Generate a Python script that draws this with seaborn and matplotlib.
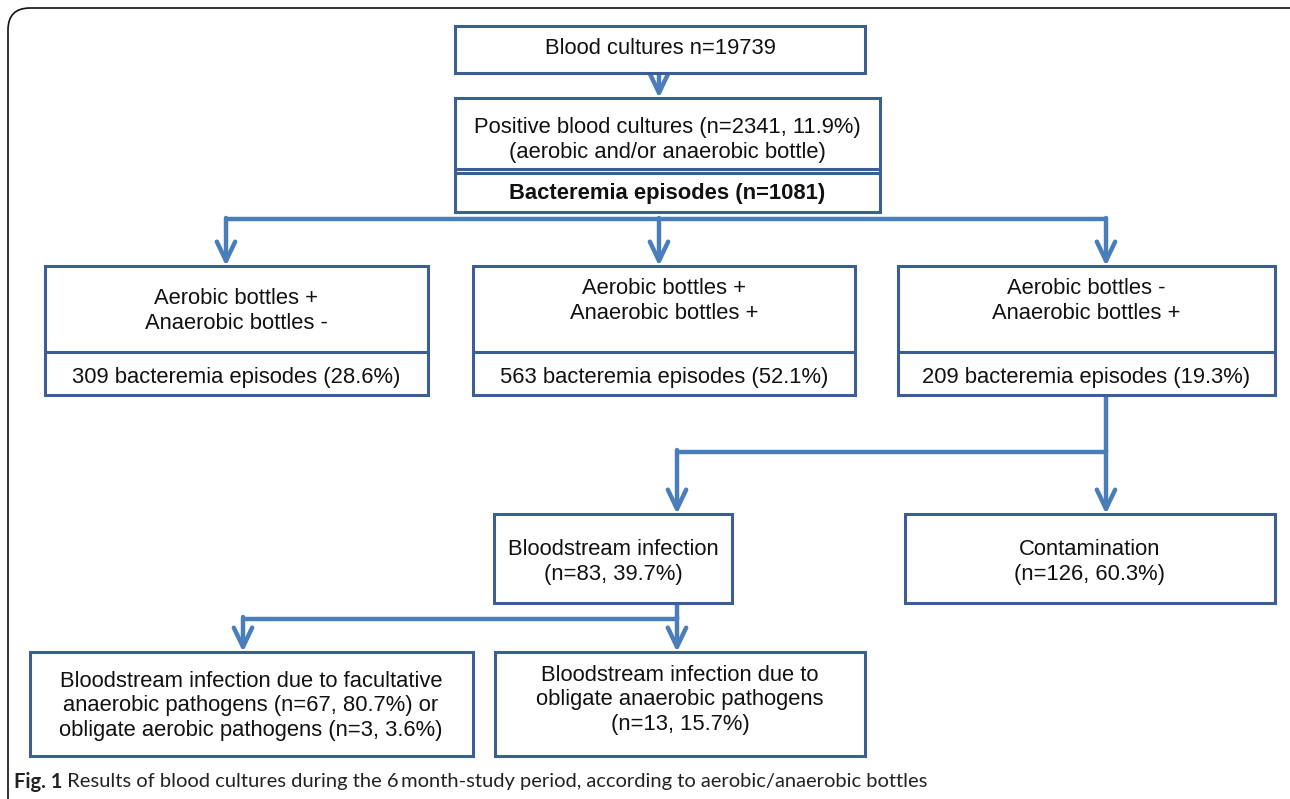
import matplotlib
matplotlib.use("Agg")
import matplotlib.pyplot as plt
import seaborn as sns
from matplotlib.patches import Rectangle, FancyBboxPatch

# ---- data ----
total_cultures = 19739
positive = [2341, 11.9]
episodes_total = 1081
bottle_groups = ["Aerobic bottles +\nAnaerobic bottles -",
                 "Aerobic bottles +\nAnaerobic bottles +",
                 "Aerobic bottles -\nAnaerobic bottles +"]
bottle_episodes = [309, 563, 209]
bottle_pct = [28.6, 52.1, 19.3]
outcome_labels = ["Bloodstream infection", "Contamination"]
outcome_n = [83, 126]
outcome_pct = [39.7, 60.3]
bsi_labels = ["Bloodstream infection due to facultative\nanaerobic pathogens (n={}, {}%) or\n"
              "obligate aerobic pathogens (n={}, {}%)",
              "Bloodstream infection due to\nobligate anaerobic pathogens\n(n={}, {}%)"]
bsi_n = [67, 3, 13]
bsi_pct = [80.7, 3.6, 15.7]
caption_bold = "Fig. 1"
caption_text = " Results of blood cultures during the 6\u2009month-study period, according to aerobic/anaerobic bottles"

sns.set_theme(style="white")
plt.rcParams['font.family'] = ['Liberation Sans', 'DejaVu Sans']

edge = "#3c5e92"
arrow_c = "#4a7ebb"
fs = 15.8

fig = plt.figure(figsize=(12.9, 7.99), dpi=100)
ax = fig.add_axes([0, 0, 1, 1])
ax.set_xlim(0, 1290)
ax.set_ylim(799, 0)
ax.axis("off")

# outer frame
frame = FancyBboxPatch((8, 8), 1320, 840, boxstyle="round,pad=0,rounding_size=22",
                       fc="none", ec="#111111", lw=1.2)
ax.add_patch(frame)


def box(x0, y0, x1, y1, dividers=()):
    ax.add_patch(Rectangle((x0, y0), x1 - x0, y1 - y0, fc="white", ec=edge, lw=2.2, zorder=3))
    for d in dividers:
        ax.plot([x0, x1], [d, d], color=edge, lw=2.2, zorder=4)


def label(x, y, s, **kw):
    ax.text(x, y, s, ha="center", va="center", fontsize=fs, color="#111111",
            linespacing=1.2, zorder=5, **kw)


def arrow(x, y0, y1):
    ax.annotate("", xy=(x, y1), xytext=(x, y0),
                arrowprops=dict(arrowstyle="->,head_length=1.15,head_width=0.55",
                                lw=3.2, color=arrow_c, shrinkA=0, shrinkB=0), zorder=2)


def line(xs, ys):
    ax.plot(xs, ys, color=arrow_c, lw=3.2, solid_capstyle="butt", zorder=2)


# top
box(455, 26, 865, 73)
label(660, 49, f"Blood cultures n={total_cultures}")
arrow(659, 73, 98)

box(455, 98, 880, 212, dividers=(168.5, 172.5))
label(667, 140, f"Positive blood cultures (n={positive[0]}, {positive[1]}%)\n(aerobic and/or anaerobic bottle)")
label(667, 194, f"Bacteremia episodes (n={episodes_total})", fontweight="bold")

# split into bottle groups
line([226, 1106], [219, 219])
xs3 = [(45, 428), (473, 855), (898, 1275)]
ty3 = [311, 301, 301]
cx3 = [226, 659, 1106]
for (x0, x1), ty, cx, g, n, p in zip(xs3, ty3, cx3, bottle_groups, bottle_episodes, bottle_pct):
    arrow(cx, 218, 266)
    box(x0, 266, x1, 395, dividers=(352,))
    label((x0 + x1) / 2, ty, g)
    label((x0 + x1) / 2, 377, f"{n} bacteremia episodes ({p}%)")

# outcomes of anaerobic-only group
line([1106, 1106], [395, 452])
line([677, 1106], [452, 452])
xs6 = [(494, 732), (905, 1275)]
cx6 = [677, 1106]
for (x0, x1), cx, lab, n, p in zip(xs6, cx6, outcome_labels, outcome_n, outcome_pct):
    arrow(cx, 450, 514)
    box(x0, 514, x1, 603)
    label((x0 + x1) / 2, 562, f"{lab}\n(n={n}, {p}%)")

# bloodstream infection split
line([677, 677], [603, 619])
line([243, 677], [619, 619])
arrow(243, 617, 652)
arrow(677, 617, 652)
box(30, 652, 473, 756)
label(251, 706, bsi_labels[0].format(bsi_n[0], bsi_pct[0], bsi_n[1], bsi_pct[1]))
box(495, 652, 865, 756)
label(680, 700, bsi_labels[1].format(bsi_n[2], bsi_pct[2]))

# caption
cap_fam = ['Lato', 'DejaVu Sans']
t = ax.text(14, 782, caption_bold, ha="left", va="center", fontsize=14.5, fontweight="bold",
            family=cap_fam, color="#222222")
fig.canvas.draw()
bb = t.get_window_extent()
x_next = ax.transData.inverted().transform((bb.x1, bb.y0))[0]
ax.text(x_next, 782, caption_text, ha="left", va="center", fontsize=14.5,
        family=cap_fam, color="#222222")

fig.savefig("out.png", dpi=100)
